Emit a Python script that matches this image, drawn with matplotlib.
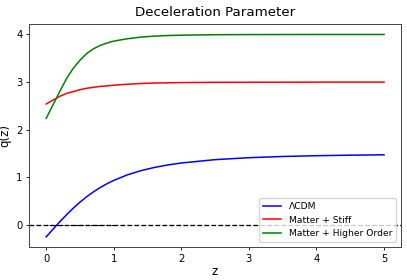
import matplotlib
matplotlib.use("Agg")
import matplotlib.pyplot as plt

# redshift samples and q(z)
z = [0, 0.05, 0.1, 0.15, 0.2, 0.3, 0.4, 0.5, 0.6, 0.7, 0.8, 0.9, 1.0,
     1.2, 1.4, 1.6, 1.8, 2.0, 2.5, 3.0, 3.5, 4.0, 4.5, 5.0]
q_lcdm = [-0.25, -0.171, -0.092, -0.013, 0.064, 0.212, 0.351, 0.478, 0.593,
          0.695, 0.786, 0.865, 0.935, 1.051, 1.139, 1.207, 1.260, 1.301,
          1.371, 1.412, 1.438, 1.454, 1.465, 1.473]
q_stiff = [2.54, 2.58, 2.62, 2.66, 2.70, 2.76, 2.80, 2.84, 2.87, 2.89, 2.91,
           2.92, 2.935, 2.955, 2.97, 2.98, 2.985, 2.99, 2.995, 2.997, 2.998,
           2.999, 3.0, 3.0]
q_higher = [2.24, 2.38, 2.52, 2.66, 2.80, 3.07, 3.29, 3.46, 3.60, 3.70, 3.77,
            3.82, 3.86, 3.91, 3.945, 3.965, 3.978, 3.985, 3.995, 3.998,
            3.999, 4.0, 4.0, 4.0]
labels = ["\u039bCDM", "Matter + Stiff", "Matter + Higher Order"]

fig = plt.figure(figsize=(4.07, 2.8), dpi=100)
ax = fig.add_axes([0.072, 0.118, 0.913, 0.795])

ax.plot(z, q_lcdm, color="blue", lw=1.1, label=labels[0])
ax.plot(z, q_stiff, color="red", lw=1.1, label=labels[1])
ax.plot(z, q_higher, color="green", lw=1.1, label=labels[2])
ax.axhline(0, color="black", linestyle="--", lw=0.95)
ax.plot([0, 1], [0, 0], color="black", lw=0.7,
        linestyle=(2.0, (3.7, 1.6)))

for sp in ax.spines.values():
    sp.set_linewidth(0.7)
    sp.set_color("#444444")
ax.tick_params(labelsize=7.2, width=0.6, length=2.5, pad=2.5)
ax.set_xlabel("z", fontsize=8.5, labelpad=1)
ax.set_ylabel("q(z)", fontsize=8.5, labelpad=3)
ax.set_title("Deceleration Parameter", fontsize=9.6, pad=6)
ax.legend(loc="lower right", fontsize=6.6, handlelength=2.0,
          borderpad=0.45, labelspacing=0.5, framealpha=0.8)

fig.savefig("out.png", dpi=100)
